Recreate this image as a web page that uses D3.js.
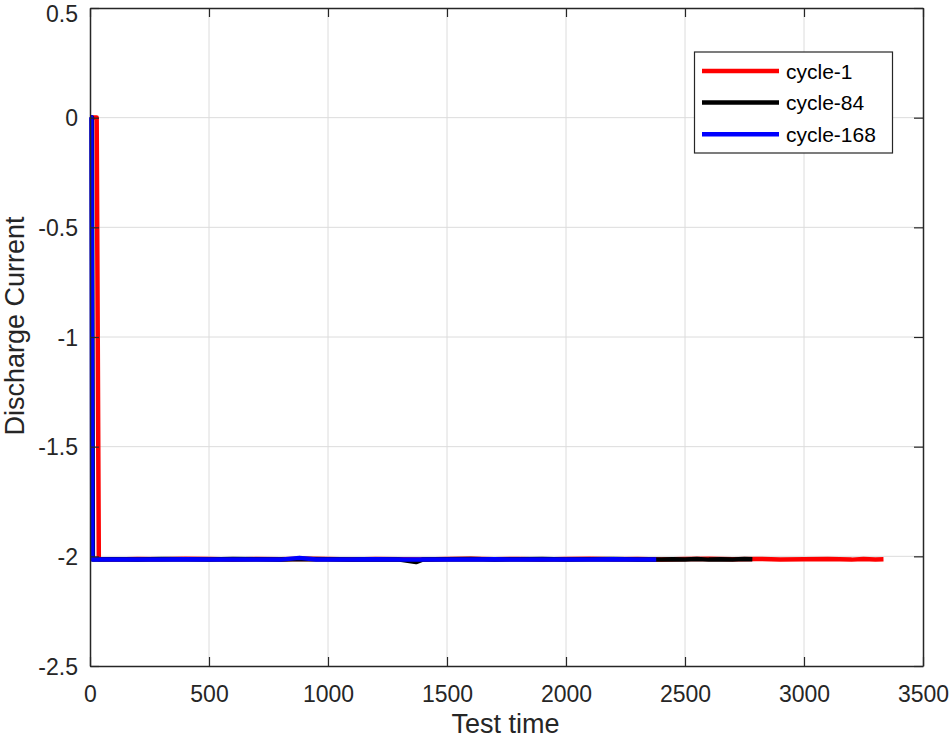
<!DOCTYPE html>
<html>
<head>
<meta charset="utf-8">
<script src="https://cdn.jsdelivr.net/npm/d3@7"></script>
<style>
  body { margin: 0; background: #fff; }
  svg text { font-family: "Liberation Sans", Arial, sans-serif; fill: #262626; }
</style>
</head>
<body>
<div id="chart"></div>
<script>
// tick values
var xTicks = [0, 500, 1000, 1500, 2000, 2500, 3000, 3500];
var yTicks = [0.5, 0, -0.5, -1, -1.5, -2, -2.5];

// series names and colours
var seriesNames = ["cycle-1", "cycle-84", "cycle-168"];
var seriesColors = ["#ff0000", "#000000", "#0000ff"];

// cycle-1 (red)
var redTime = [0, 28, 37, 100, 200, 300, 400, 500, 600, 700, 800, 900, 1000, 1100, 1200, 1300, 1400,
  1500, 1600, 1700, 1800, 1900, 2000, 2100, 2200, 2300, 2400, 2500, 2600, 2700, 2800, 2900, 3000,
  3100, 3200, 3250, 3300, 3334];
var redCurrent = [0.001, 0.001, -2.013, -2.014, -2.012, -2.013, -2.011, -2.012, -2.014, -2.012, -2.013,
  -2.011, -2.012, -2.014, -2.012, -2.013, -2.015, -2.012, -2.011, -2.013, -2.012, -2.014, -2.012,
  -2.011, -2.013, -2.012, -2.014, -2.012, -2.011, -2.013, -2.012, -2.014, -2.013, -2.012, -2.015,
  -2.012, -2.014, -2.013];

// cycle-84 (black)
var blackTime = [0, 8, 12, 100, 200, 300, 400, 500, 600, 700, 800, 900, 1000, 1100, 1200, 1300, 1370,
  1400, 1500, 1600, 1700, 1800, 1900, 2000, 2100, 2200, 2300, 2400, 2450, 2500, 2550, 2600, 2650,
  2700, 2750, 2783];
var blackCurrent = [0.001, 0.001, -2.014, -2.013, -2.014, -2.012, -2.013, -2.014, -2.012, -2.013,
  -2.014, -2.012, -2.013, -2.014, -2.013, -2.015, -2.026, -2.014, -2.013, -2.012, -2.014, -2.013,
  -2.012, -2.014, -2.013, -2.012, -2.014, -2.015, -2.013, -2.014, -2.012, -2.015, -2.013, -2.014,
  -2.012, -2.013];

// cycle-168 (blue)
var blueTime = [0, 6, 10, 100, 200, 300, 400, 500, 600, 700, 800, 880, 950, 1000, 1100, 1200, 1300,
  1400, 1500, 1600, 1700, 1800, 1900, 2000, 2100, 2200, 2300, 2379];
var blueCurrent = [0.002, 0.002, -2.014, -2.015, -2.014, -2.015, -2.013, -2.014, -2.015, -2.014,
  -2.015, -2.007, -2.014, -2.015, -2.014, -2.013, -2.015, -2.014, -2.015, -2.014, -2.013, -2.015,
  -2.014, -2.015, -2.014, -2.013, -2.015, -2.014];

var W = 950, H = 740;
var margin = { top: 8, right: 27, bottom: 74, left: 90 },
    width = W - margin.left - margin.right,
    height = H - margin.top - margin.bottom;

var svg = d3.select("#chart")
    .append("svg")
    .attr("width", W)
    .attr("height", H)
    .append("g")
    .attr("transform", "translate(" + margin.left + "," + margin.top + ")");

var x = d3.scaleLinear().domain([0, 3500]).range([0, width]);
var y = d3.scaleLinear().domain([-2.5, 0.5]).range([height, 0]);

// grid
svg.append("g").selectAll("line.gx")
    .data(xTicks.slice(1, -1))
    .enter().append("line")
    .attr("x1", function (d) { return x(d); })
    .attr("x2", function (d) { return x(d); })
    .attr("y1", 0).attr("y2", height)
    .style("stroke", "#dcdcdc").style("stroke-width", 1);
svg.append("g").selectAll("line.gy")
    .data(yTicks.slice(1, -1))
    .enter().append("line")
    .attr("y1", function (d) { return y(d); })
    .attr("y2", function (d) { return y(d); })
    .attr("x1", 0).attr("x2", width)
    .style("stroke", "#dcdcdc").style("stroke-width", 1);

// lines
var series = [
    { time: redTime, current: redCurrent },
    { time: blackTime, current: blackCurrent },
    { time: blueTime, current: blueCurrent }
];
var line = d3.line()
    .x(function (d) { return x(d[0]); })
    .y(function (d) { return y(d[1]); });

series.forEach(function (s, i) {
    var pts = s.time.map(function (t, j) { return [t, s.current[j]]; });
    svg.append("path")
        .datum(pts)
        .attr("d", line)
        .style("fill", "none")
        .style("stroke", seriesColors[i])
        .style("stroke-width", 4.5)
        .style("stroke-linejoin", "round");
});

// axes (ticks inside, box on)
var fmt = function (d) { return d3.format("")(d).replace("−", "-"); };
var xAxis = svg.append("g")
    .attr("transform", "translate(0," + height + ")")
    .call(d3.axisBottom(x).tickValues(xTicks).tickSizeInner(-9).tickSizeOuter(0).tickPadding(20).tickFormat(fmt));
var yAxis = svg.append("g")
    .call(d3.axisLeft(y).tickValues(yTicks).tickSizeInner(-9).tickSizeOuter(0).tickPadding(12).tickFormat(fmt));
svg.append("g")
    .call(d3.axisTop(x).tickValues(xTicks).tickSizeInner(-9).tickSizeOuter(0).tickFormat(""));
svg.append("g")
    .attr("transform", "translate(" + width + ",0)")
    .call(d3.axisRight(y).tickValues(yTicks).tickSizeInner(-9).tickSizeOuter(0).tickFormat(""));

svg.selectAll(".domain").style("stroke", "#262626").style("stroke-width", 1.5);
svg.selectAll(".tick line").style("stroke", "#262626").style("stroke-width", 1.2);
svg.selectAll(".tick text").style("font-size", "23px").style("fill", "#262626");
xAxis.selectAll(".tick text").attr("dy", "0.71em");
yAxis.selectAll(".tick text").attr("dy", "0.36em");
// keep the top label inside the page
yAxis.selectAll(".tick text").filter(function (d) { return d === 0.5; }).attr("dy", "0.6em");

// axis labels
svg.append("text")
    .attr("x", width / 2 - 1)
    .attr("y", height + 67)
    .attr("text-anchor", "middle")
    .style("font-size", "27px")
    .text("Test time");

svg.append("text")
    .attr("transform", "rotate(-90)")
    .attr("x", -(326 - margin.top))
    .attr("y", -66)
    .attr("text-anchor", "middle")
    .style("font-size", "27px")
    .text("Discharge Current");

// legend
var legend = svg.append("g")
    .attr("transform", "translate(" + (694.5 - margin.left) + "," + (52 - margin.top) + ")");
legend.append("rect")
    .attr("width", 198)
    .attr("height", 101)
    .style("fill", "#fff")
    .style("stroke", "#262626")
    .style("stroke-width", 1.2);
seriesNames.forEach(function (name, i) {
    var ly = 19 + i * 31.6;
    legend.append("line")
        .attr("x1", 7.5).attr("x2", 84.5)
        .attr("y1", ly).attr("y2", ly)
        .style("stroke", seriesColors[i])
        .style("stroke-width", 4.5);
    legend.append("text")
        .attr("x", 91.5)
        .attr("y", ly + 7.5)
        .style("font-size", "21px")
        .style("fill", "#000")
        .text(name);
});
</script>
</body>
</html>
